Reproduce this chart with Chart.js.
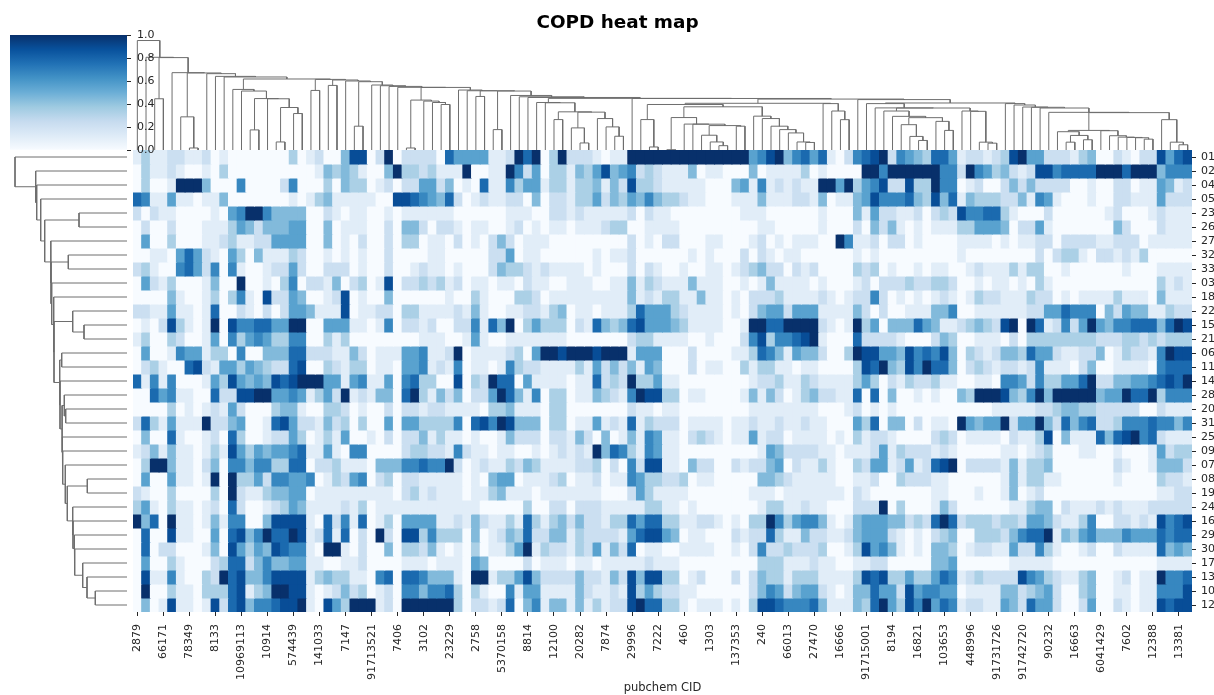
<!DOCTYPE html>
<html><head><meta charset="utf-8"><title>COPD heat map</title>
<script src="https://cdn.jsdelivr.net/npm/chart.js@4"></script>
<style>
html,body{margin:0;padding:0;background:#fff;width:1214px;height:695px;overflow:hidden}
canvas{position:absolute;display:block;filter:blur(0.5px)}
#title{position:absolute;left:417.5px;width:400px;top:11px;text-align:center;font:bold 18.4px/22px 'DejaVu Sans';color:#000;filter:blur(0.3px)}
</style></head><body>
<div id="title">COPD heat map</div>
<canvas id="left" width="127" height="462" style="left:0;top:150px;width:127px;height:462px"></canvas>
<canvas id="top" width="1059" height="116" style="left:133px;top:35px;width:1059px;height:116px"></canvas>
<canvas id="heat" width="1193" height="695" style="left:21px;top:0;width:1193px;height:695px"></canvas>
<canvas id="bar" width="200" height="170" style="left:0;top:0;width:200px;height:170px"></canvas>
<script>
const rowLabels=["01","02","04","05","23","26","27","32","33","03","18","22","15","21","06","11","14","28","20","31","25","09","07","08","19","24","16","29","30","17","13","10","12"];
const columnTickLabels=["2879","66171","78349","8133","10969113","10914","574439","141033","7147","91713521","7406","3102","23229","2758","5370158","8814","12100","20282","7874","29996","7222","460","1303","137353","240","66013","27470","16666","91715001","8194","16821","103653","448996","91731726","91742720","90232","16663","6041429","7602","12388","13381"];
const colorbarTicks=[0,0.2,0.4,0.6,0.8,1];
const blues=["#f7fbff","#deebf7","#c6dbef","#9ecae1","#6baed6","#4292c6","#2171b5","#08519c","#08306b"];
// cell levels 0..9 (level/9 = value on the 0..1 colour bar)
const r01=[1,3,1,1,2,2,1,1,2,0,1,0,0,0,0,0,0,0,3,0,1,2,0,0,4,8,8,0,2,9,0,2,2,2,2,0,7,5,5,5,5,1,1,2,9,7,9,0,3,9,2,2,2,1,0,1,1,9,9,9,9,9,9,9,9,9,9,9,9,9,9,5,6,8,9,4,6,7,5,7,1,0,2,6,7,8,9,2,6,5,4,3,7,7,5,1,2,2,1,2,3,8,9,5,5,2,2,2,1,3,4,0,0,2,1,0,2,2,8,5,7,8];
const r02=[0,3,1,1,2,1,0,0,1,0,3,0,0,0,0,0,0,0,0,0,0,1,4,3,4,3,1,0,0,4,9,3,3,2,3,1,1,1,9,0,0,1,1,9,6,2,5,0,3,3,1,4,3,5,8,4,5,6,2,3,2,1,1,1,4,0,1,1,0,0,0,4,0,1,1,1,1,3,0,1,0,0,0,0,9,9,6,9,9,9,9,9,9,6,6,2,9,6,5,3,4,2,1,2,8,8,6,7,7,7,7,9,9,9,7,9,9,9,4,6,6,6];
const r04=[0,3,0,0,1,9,9,9,4,0,0,0,6,0,0,0,0,2,6,0,0,0,3,0,4,3,3,0,1,2,0,2,2,5,5,2,4,0,1,0,7,1,1,6,3,5,5,1,3,3,1,3,3,4,1,4,2,8,3,3,2,1,1,1,1,1,0,0,0,4,5,1,6,1,2,1,2,1,1,9,9,5,9,3,5,6,8,2,2,8,3,3,9,6,6,0,1,2,0,0,2,4,2,4,2,2,2,2,0,0,1,0,0,2,2,0,1,1,5,4,1,2];
const r05=[7,6,1,1,5,1,1,0,1,1,4,0,0,0,0,0,0,0,1,0,1,3,4,1,1,1,1,1,0,0,8,8,7,6,5,4,7,2,0,1,2,1,1,2,2,0,4,0,2,2,1,3,3,5,2,4,3,5,4,6,4,3,3,2,1,1,0,0,0,1,1,1,4,1,1,1,2,2,1,4,0,1,1,4,5,8,6,6,6,7,4,3,8,4,7,1,4,3,3,3,2,2,4,1,6,5,1,0,0,0,1,0,0,2,2,1,1,1,5,2,2,2];
const r23=[2,0,2,1,1,0,0,0,0,1,0,5,6,9,9,6,4,4,4,4,0,0,2,1,0,1,1,0,0,1,0,1,1,1,1,1,1,0,0,0,0,0,0,1,1,1,0,0,2,2,1,2,1,1,1,1,1,2,0,2,1,1,0,0,0,0,0,0,0,0,1,1,1,0,0,0,0,0,0,1,0,0,0,4,1,5,2,2,1,1,2,0,2,3,2,8,6,6,7,7,3,1,0,0,0,2,0,0,0,0,0,0,1,2,0,0,0,1,2,1,1,1];
const r26=[0,2,0,0,2,0,0,0,1,1,1,3,5,4,2,4,4,4,5,5,0,0,4,0,1,1,1,0,0,2,0,4,4,2,0,2,2,1,0,1,1,0,0,1,2,0,1,0,1,1,0,1,1,1,2,3,3,0,0,1,1,1,1,0,0,0,0,0,0,0,0,0,1,1,0,0,0,0,0,1,0,0,0,2,0,4,2,4,1,0,1,0,1,1,1,3,3,5,5,5,4,0,2,2,5,1,0,0,0,0,0,0,0,4,2,0,0,0,2,1,1,1];
const r27=[0,5,0,0,3,0,0,0,1,1,2,3,1,1,2,2,5,5,5,5,0,0,4,0,1,0,2,0,0,2,0,3,3,0,1,1,0,2,0,1,0,2,4,2,0,1,1,1,0,0,0,0,0,0,0,0,0,2,0,1,0,2,2,0,0,0,1,1,0,0,0,1,2,0,1,0,1,1,1,0,0,9,6,1,1,2,0,2,2,0,1,0,0,0,0,1,1,1,1,0,1,0,1,1,2,2,0,2,2,2,2,1,1,2,2,2,0,1,1,1,1,1];
const r32=[0,0,1,1,0,5,7,5,2,1,0,5,3,0,4,1,1,1,3,2,0,0,1,0,1,0,1,0,0,2,0,0,0,0,1,1,0,0,0,0,0,2,2,5,0,1,1,0,0,0,0,0,0,1,0,1,1,2,0,0,0,0,0,0,1,0,1,0,0,0,2,0,2,1,0,1,1,0,0,0,0,0,0,1,0,1,0,0,0,0,0,0,0,0,0,1,0,0,0,0,0,0,0,0,2,0,2,3,3,1,0,2,2,1,2,1,3,0,0,0,0,0];
const r33=[2,3,1,0,0,6,7,5,2,6,0,6,1,0,0,1,2,2,5,2,0,0,2,2,2,0,1,0,0,2,0,0,1,2,1,1,0,1,0,0,0,2,4,3,3,2,1,2,1,1,1,1,0,1,0,0,0,2,0,2,1,0,0,1,0,0,1,1,0,1,2,3,4,2,2,0,2,1,2,0,0,0,0,3,2,3,0,1,0,0,1,0,1,1,0,0,1,2,1,1,1,3,1,3,3,0,0,1,0,0,0,0,0,0,1,0,0,0,1,1,1,1];
const r03=[0,5,2,1,3,0,0,0,1,4,0,0,9,0,0,1,0,3,6,0,2,2,1,4,0,2,3,0,1,8,0,2,2,3,2,3,1,2,0,1,1,0,1,1,0,2,1,1,0,0,1,1,1,0,0,1,1,4,1,3,2,1,1,1,4,1,1,1,0,0,1,0,1,4,1,1,1,1,0,1,0,0,0,1,2,0,2,2,2,3,2,2,3,3,2,0,0,1,0,1,1,0,1,0,3,1,0,0,0,0,0,0,0,0,0,0,0,0,3,1,2,1];
const r18=[0,0,0,0,4,1,0,0,1,3,0,3,6,1,0,8,2,2,5,4,0,0,1,2,8,0,1,0,0,4,0,0,0,0,0,0,1,0,0,3,1,0,0,0,3,3,2,0,1,1,1,1,1,1,1,1,1,4,1,2,1,3,3,1,1,4,1,1,0,1,0,2,2,2,3,1,1,1,1,2,1,0,1,2,2,6,2,0,1,0,1,0,1,2,1,0,1,3,2,2,1,1,1,3,2,2,0,1,0,1,1,1,1,3,1,1,1,0,4,1,1,1];
const r22=[2,2,1,1,5,1,1,0,1,7,0,0,2,1,0,2,0,2,5,5,4,1,1,1,8,0,1,1,2,2,0,3,3,1,1,1,1,2,1,4,1,0,0,1,1,2,2,1,3,4,0,1,1,0,1,1,1,3,7,5,5,5,3,2,1,1,1,1,0,1,0,2,4,5,5,2,5,5,5,1,1,1,1,4,2,0,2,0,0,1,1,1,4,4,6,0,0,1,1,1,1,1,1,2,2,5,5,7,6,6,6,0,4,2,5,4,4,1,1,3,2,2];
const r15=[0,1,0,2,8,3,1,0,1,9,0,8,6,6,7,7,5,5,9,9,0,0,5,5,5,1,1,0,1,6,0,2,2,1,2,0,0,2,2,6,1,7,4,9,0,3,5,3,3,3,0,2,1,7,4,3,4,7,8,5,5,5,4,3,1,1,1,1,0,0,1,9,9,7,7,9,9,9,9,2,1,0,1,9,3,5,0,4,4,4,7,5,4,1,1,2,3,4,3,2,8,9,0,9,7,1,2,6,2,5,9,5,4,6,6,7,7,7,4,7,9,8];
const r21=[1,3,0,0,3,2,0,0,1,5,0,6,3,5,6,5,3,3,6,6,0,0,3,1,3,0,0,0,0,0,0,0,0,1,1,1,0,0,1,5,1,0,0,1,1,1,1,1,1,1,0,0,0,0,0,0,0,2,3,3,1,1,1,1,0,0,1,0,0,0,2,6,8,3,6,6,7,8,9,1,0,0,0,7,2,2,2,2,1,0,0,0,2,4,3,0,0,1,1,1,0,2,0,3,3,3,3,3,3,3,3,2,2,2,3,3,2,3,2,3,3,3];
const r06=[0,5,0,0,1,6,5,5,1,3,3,0,6,0,0,4,4,4,7,7,2,2,2,1,1,4,2,0,1,1,1,5,5,6,1,1,2,9,0,1,1,1,1,2,3,0,5,9,9,8,9,9,9,8,9,9,9,1,5,5,5,0,0,0,2,0,0,0,0,1,1,3,7,6,4,1,5,4,4,2,0,0,3,9,8,8,5,5,4,8,6,7,6,8,4,0,3,2,1,2,4,4,3,7,5,5,2,1,1,2,2,4,0,1,3,2,2,1,6,9,8,8];
const r11=[0,2,3,1,0,0,7,8,2,1,5,5,3,5,4,3,2,2,7,8,0,0,3,2,1,3,3,0,1,1,0,5,5,6,1,2,1,6,0,1,1,0,1,6,3,2,2,1,1,1,1,3,1,5,2,4,2,4,1,5,4,0,0,0,2,0,1,1,0,0,3,1,3,3,1,1,0,1,1,0,0,0,0,3,8,7,9,4,3,8,6,9,7,7,4,0,2,3,2,1,2,2,1,2,6,1,1,1,0,2,4,0,0,1,1,1,1,0,6,7,7,7];
const r14=[7,1,6,1,6,0,0,0,1,5,3,8,5,4,5,4,8,7,8,9,9,9,5,5,1,5,6,1,1,5,0,6,7,3,3,0,0,8,0,3,2,9,7,7,0,5,1,1,1,1,0,1,1,7,2,3,2,9,3,3,5,1,1,0,0,0,0,0,0,0,0,1,2,2,3,1,1,3,2,1,1,1,1,3,5,3,0,2,1,3,2,2,3,1,1,0,0,1,1,0,6,6,5,2,6,3,3,5,5,7,9,2,2,4,4,5,5,6,7,8,7,9];
const r28=[0,0,7,5,6,1,1,0,0,7,2,2,8,8,9,9,5,5,6,5,1,3,5,2,9,1,2,1,4,4,0,7,9,3,1,4,2,4,0,2,2,5,9,7,4,1,6,0,3,3,0,1,1,4,3,2,1,6,9,8,8,3,3,0,1,1,0,0,0,0,1,4,1,4,2,0,1,3,4,2,2,1,1,7,0,7,0,4,0,0,1,0,1,0,0,4,3,9,9,9,8,4,3,6,9,4,9,9,9,9,9,4,5,5,9,7,7,9,3,6,6,6];
const r20=[0,0,0,0,3,0,1,0,1,2,1,5,2,0,0,0,3,4,4,1,0,0,3,3,2,0,1,0,0,2,0,2,2,1,2,2,1,1,1,1,0,3,3,4,1,1,1,0,3,3,0,0,0,0,0,0,0,2,1,1,0,1,1,0,0,0,0,0,0,0,0,1,1,1,1,1,1,1,1,0,0,0,1,2,0,1,0,1,0,0,0,0,0,0,0,0,0,0,0,1,1,1,1,1,2,2,3,4,4,3,3,2,2,2,2,2,0,0,2,1,1,1];
const r31=[2,7,3,1,5,1,1,1,9,2,2,4,5,0,0,1,7,8,5,2,2,1,4,2,3,0,3,0,0,5,0,5,5,3,3,3,3,6,0,7,8,6,9,8,4,4,4,0,3,3,0,1,1,5,1,2,1,7,1,3,2,2,2,0,1,1,1,1,0,1,1,2,1,1,2,1,1,2,1,1,0,0,0,5,3,7,0,4,4,0,2,0,1,1,0,9,5,4,5,5,9,2,5,5,9,4,2,7,4,6,7,2,2,3,6,6,6,7,6,6,4,6];
const r25=[0,4,0,0,7,1,0,0,1,2,0,7,3,0,0,1,2,2,5,3,0,1,3,1,5,0,0,1,0,2,0,2,2,4,1,3,1,1,0,1,0,0,1,4,2,2,2,0,2,2,1,4,2,0,4,0,1,4,1,6,5,1,1,0,2,3,2,1,0,1,1,5,1,2,2,0,1,1,1,1,0,1,0,3,1,2,2,1,0,0,0,0,2,3,2,0,1,1,1,1,0,2,1,1,3,8,0,4,1,1,1,7,4,7,8,9,6,7,2,1,1,1];
const r09=[1,2,4,1,4,1,1,0,1,3,1,8,5,3,5,4,5,5,6,7,1,1,5,1,0,6,6,0,0,0,0,2,3,3,2,2,1,6,2,1,1,0,1,1,0,0,1,0,1,2,1,2,1,9,4,7,6,3,1,6,5,1,1,0,0,0,0,0,0,0,0,0,1,5,4,2,2,2,2,1,1,0,1,1,1,2,5,1,3,2,2,2,1,2,1,0,0,0,0,0,1,1,0,1,2,3,0,0,0,1,1,0,0,1,0,0,0,1,5,2,3,3];
const r07=[0,3,9,9,4,1,1,0,2,4,0,6,6,4,6,6,3,3,7,7,0,2,2,3,1,1,1,0,4,4,4,6,6,7,6,6,9,2,0,1,2,1,1,3,2,4,3,1,1,1,1,2,2,3,0,2,0,6,2,8,8,1,1,0,4,2,2,0,0,2,1,2,2,4,5,0,2,1,1,3,1,0,0,3,2,5,5,1,2,5,1,2,7,8,9,0,2,2,2,2,1,4,1,3,3,4,0,0,0,0,0,0,0,2,1,0,0,1,4,4,4,2];
const r08=[0,5,0,0,5,1,1,0,1,9,0,9,3,3,5,2,6,6,5,5,6,0,1,3,2,5,6,0,2,3,0,2,2,1,1,1,1,1,0,1,0,4,5,5,0,1,1,1,2,3,0,1,1,2,0,1,1,6,5,3,3,2,2,3,0,1,1,0,0,0,0,0,4,4,3,2,1,1,1,1,1,0,0,1,1,2,0,0,3,2,2,2,1,1,0,0,0,0,0,0,1,4,1,3,3,1,1,0,0,0,0,0,0,1,0,0,0,0,3,2,2,1];
const r19=[2,1,0,0,3,0,0,0,0,3,0,9,2,1,1,3,4,4,5,5,0,1,1,1,1,1,1,1,1,1,0,2,3,1,2,1,1,1,0,1,1,3,4,1,1,1,0,1,1,1,1,1,1,1,0,0,0,2,5,3,1,1,1,1,0,0,0,0,0,0,0,1,1,1,0,1,1,1,1,1,1,1,0,2,1,0,0,0,0,0,0,0,1,1,0,0,0,1,0,0,1,4,0,1,2,0,0,0,0,0,0,0,0,0,0,0,0,0,1,1,2,2];
const r24=[3,5,1,0,3,1,1,0,1,2,0,7,2,0,0,1,2,3,5,4,1,1,1,1,2,1,3,0,1,1,1,1,1,1,1,1,1,1,1,1,0,0,0,0,0,3,0,0,2,2,0,2,2,2,1,1,1,1,1,3,3,1,1,0,1,0,0,0,0,0,0,0,1,3,3,1,1,2,1,1,0,0,0,2,2,2,9,0,3,0,0,0,1,4,2,0,0,0,0,0,0,1,1,3,4,4,0,2,1,1,1,2,1,2,1,1,1,2,2,2,2,2];
const r16=[9,4,7,0,9,1,1,0,1,4,1,6,6,0,0,4,8,8,8,8,1,0,7,2,6,1,7,0,1,3,0,5,5,5,5,1,1,2,1,4,2,1,1,3,1,7,3,1,3,4,2,4,2,2,1,3,3,7,5,7,7,3,3,1,1,2,2,1,0,1,0,3,3,9,6,3,5,6,6,4,1,0,1,4,5,5,5,4,4,2,3,2,7,9,7,2,3,3,3,2,3,3,2,5,5,4,2,1,1,3,6,0,0,2,2,1,2,1,8,6,7,8];
const r29=[0,7,0,0,8,1,1,0,0,5,0,7,8,4,6,9,7,7,9,8,1,2,7,1,7,0,2,0,9,2,0,8,8,3,6,3,3,3,0,4,0,1,2,4,3,7,2,2,4,4,1,3,2,2,2,2,1,5,7,8,8,5,4,0,1,1,0,0,0,2,1,2,2,7,3,1,1,4,2,2,1,1,2,4,5,5,5,2,1,0,1,0,2,3,4,0,0,3,3,3,2,4,6,7,7,9,1,4,3,5,6,4,4,4,6,5,5,5,7,6,7,7];
const r30=[0,7,0,2,2,0,0,0,1,4,0,8,5,3,5,4,8,7,6,6,1,0,9,9,1,0,2,0,0,4,0,3,3,2,4,1,0,1,0,3,0,1,1,3,5,9,1,3,2,2,1,3,2,5,1,4,2,7,0,1,1,0,0,1,1,1,1,0,0,1,0,2,6,2,2,3,2,2,2,3,0,0,1,3,8,5,6,4,1,0,1,0,4,4,3,0,1,2,2,1,1,5,2,2,6,3,1,0,0,1,2,0,0,2,1,1,1,1,7,4,5,4];
const r17=[0,5,0,0,3,1,0,0,0,2,3,7,7,2,4,6,4,4,5,5,1,1,0,0,1,1,2,0,0,0,0,1,1,1,0,1,1,1,0,5,4,0,0,0,0,2,0,1,1,1,0,1,1,0,1,1,1,1,1,2,1,1,1,0,0,0,0,0,0,0,0,0,3,3,3,1,1,1,2,1,1,0,0,1,1,2,2,0,0,0,0,0,4,4,5,0,0,0,0,0,0,1,1,1,1,1,0,0,0,0,0,0,0,0,0,0,0,0,1,1,1,1];
const r13=[0,8,1,1,6,1,0,0,3,2,9,7,8,4,4,6,8,8,8,8,1,3,4,3,3,1,1,0,6,7,0,7,7,6,4,4,4,1,0,9,9,1,3,3,5,8,4,2,2,2,2,4,2,2,1,4,2,8,4,8,8,3,3,0,1,2,0,0,0,2,0,2,4,3,3,1,3,3,3,1,1,1,1,3,8,7,8,3,3,5,3,3,5,7,6,1,2,3,2,2,2,2,8,6,5,3,2,1,1,3,4,0,0,1,2,0,1,1,9,6,6,7];
const r10=[0,9,0,0,3,1,1,0,3,3,3,7,8,1,3,4,9,9,8,8,1,0,1,2,4,2,3,0,1,2,0,6,6,4,6,6,7,3,0,3,1,0,0,6,1,5,5,1,1,1,1,4,2,1,1,2,1,8,3,5,3,2,2,1,1,0,0,0,0,0,0,2,4,6,5,2,4,5,5,2,1,0,1,4,4,7,5,5,2,8,5,6,6,5,5,0,1,1,1,1,4,4,2,3,4,5,2,0,0,3,4,0,0,1,1,0,1,1,6,6,6,8];
const r12=[0,4,0,1,8,1,1,0,1,8,2,7,8,4,6,6,7,8,8,9,1,0,8,5,3,9,9,9,1,2,0,9,9,9,9,9,9,3,0,2,2,1,2,7,0,4,6,1,4,4,1,4,1,3,1,2,2,8,9,7,7,3,3,1,0,1,1,1,0,1,0,3,8,8,7,6,6,6,7,4,1,1,1,4,3,7,9,5,3,8,6,9,5,7,6,1,2,2,1,1,5,4,2,7,5,5,2,0,0,2,5,0,0,2,1,0,1,1,8,7,8,8];
const rowLevels=[r01,r02,r04,r05,r23,r26,r27,r32,r33,r03,r18,r22,r15,r21,r06,r11,r14,r28,r20,r31,r25,r09,r07,r08,r19,r24,r16,r29,r30,r17,r13,r10,r12];
// dendrogram merges: [merge height, left child, right child]; a number is a leaf index
const a2=[43.3,[9,16,17],[37.3,18,19]], a4=[52.2,[21,13,14],[52,15,a2]], a5=[61.3,11,[59.7,12,a4]];
const b2=[38.7,[23,50,[8,51,52]],[32.3,53,[24,54,[14.7,55,56]]]], b4=[48.3,46,[48,47,[39,[31.3,48,49],b2]]];
const c1=[26.7,64,[25.3,[15.7,65,[9,66,[5.3,67,68]]],[24.7,69,70]]], c2=[33.3,[1.3,61,62],[26.8,63,c1]];
const c3=[34.7,71,[32.3,72,[24.7,73,[21.3,74,[18,75,[9,76,[8.5,77,78]]]]]]];
const c4=[46.3,[31.3,58,[4,59,60]],[44,c2,c3]], c6=[47.5,c4,[47.2,79,[39.8,80,[31.2,81,82]]]];
const d1=[39.8,86,[34.5,87,[33.2,[26.2,88,[14.5,89,[10.5,90,91]]],[29.5,92,[20.5,93,94]]]]];
const d2=[39.8,95,[39.5,96,[8.8,97,[7.8,98,99]]]], d3=[47.2,84,[42.9,85,[42.8,d1,d2]]];
const e1=[20.5,[19.2,106,[15.5,[8.8,107,108],[11.2,109,110]]],[20.2,111,[15.2,112,[13.8,113,[13.5,114,[13.2,115,[11.8,116,117]]]]]]];
const e2=[38.2,e1,[31.2,118,[8.8,119,[6.2,120,121]]]];
const e3=[47.2,100,[45.8,101,[43.8,102,[43.5,103,[42.8,104,[38.5,105,e2]]]]]];
const g3=[52.4,b4,[52.3,57,[51.7,c6,[51.2,83,[47.8,d3,e3]]]]];
const g4=[55.3,43,[54,44,[53.3,45,g3]]];
const g6=[60.7,37,[60,38,[60,[54.3,39,40],[59.7,[21.3,41,42],g4]]]];
const r5=[50.7,[3,31,32],[49.7,33,[48.3,34,[46.3,35,36]]]];
const h1=[63.4,30,[63.3,r5,g6]];
const i1=[69.7,24,[69,[24.7,25,26],[65.7,27,[65,28,[64.3,29,h1]]]]];
const j1=[71.7,a5,[71.3,[60.3,20,21],[70.7,[65.3,22,23],i1]]];
const k1=[77,8,[74.3,9,[73.7,10,j1]]];
const columnTree=[110,0,[93.3,1,[93,[52,2,3],[78,4,[77.7,[34,5,[3,6,7]],k1]]]]];
const q1=[54.3,25,[54,26,[52.7,27,[52.3,28,[44.3,29,[40,30,[31.7,31,32]]]]]]];
const q2=[64.7,20,[64.3,21,[61.7,22,[59.7,[39.7,23,24],q1]]]];
const q3=[67.3,[65.3,14,15],[67,16,[65,[62.7,17,[61.3,18,19]],q2]]];
const q4=[73.3,10,[73,[54.3,11,[43,12,13]],q3]];
const q5=[76.3,6,[76,[58.7,7,8],[75.3,9,q4]]];
const rowTree=[112,0,[91.3,1,[90.3,2,[86.3,3,[82.3,[48,4,5],q5]]]]];

rowLevels.forEach((r,i)=>{if(r.length!==122)throw new Error("row "+rowLabels[i]+" has "+r.length)});
const darkText="#262626", fontName="'DejaVu Sans'";
function hex(c){return [1,3,5].map(i=>parseInt(c.substr(i,2),16))}
function bluesAt(v){const t=Math.min(1,Math.max(0,v))*(blues.length-1),i=Math.min(blues.length-2,Math.floor(t)),f=t-i,a=hex(blues[i]),b=hex(blues[i+1]);
 return "rgb("+a.map((x,k)=>Math.round(x+(b[k]-x)*f)).join(",")+")"}
const columnCategories=rowLevels[0].map((_,c)=>c%3===0?columnTickLabels[c/3]:"");
const base={responsive:false,animation:false,events:[],plugins:{legend:{display:false},tooltip:{enabled:false}}};
const tickGrid={drawOnChartArea:false,drawTicks:true,tickLength:4,color:darkText,offset:false};

new Chart(document.getElementById("heat"),{type:"bar",
 data:{labels:columnCategories,datasets:rowLevels.map((r,i)=>({label:rowLabels[i],data:r.map(()=>1),backgroundColor:r.map(l=>bluesAt(l/9)),borderWidth:0,barPercentage:1,categoryPercentage:1,inflateAmount:0.5}))},
 options:{...base,layout:{padding:{left:112,right:0,top:150,bottom:0}},
  scales:{
   x:{type:"category",stacked:true,position:"bottom",grid:tickGrid,border:{display:false},
    afterBuildTicks:a=>{a.ticks=a.ticks.filter(t=>t.value%3===0)},afterFit:s=>{s.height=83},
    ticks:{autoSkip:false,minRotation:90,maxRotation:90,padding:8,color:darkText,font:{family:fontName,size:11}},
    title:{display:true,text:"pubchem CID",color:darkText,padding:{top:0,bottom:0},font:{family:fontName,size:11.5}}},
   y:{type:"linear",stacked:true,reverse:true,min:0,max:rowLabels.length,position:"right",grid:tickGrid,border:{display:false},
    afterBuildTicks:a=>{a.ticks=rowLabels.map((_,i)=>({value:i+0.5}))},afterFit:s=>{s.width=22},
    ticks:{autoSkip:false,padding:5,color:darkText,font:{family:fontName,size:11},callback:v=>rowLabels[Math.round(v-0.5)]}}}}});

function segments(node,out,flip){ // returns [position,height]
 if(typeof node==="number")return [node,0];
 const L=segments(node[1],out,flip),R=segments(node[2],out,flip),h=node[0];
 const pts=[[L[0],L[1]],[L[0],h],[R[0],h],[R[0],R[1]]];
 pts.forEach(p=>out.push(flip?{x:p[1],y:p[0]}:{x:p[0],y:p[1]}));
 out.push({x:null,y:null});
 return [(L[0]+R[0])/2,h];
}
const lineStyle={type:"scatter",showLine:true,borderColor:"#6e6e6e",borderWidth:1,pointRadius:0,spanGaps:false,clip:false,tension:0};
const topPts=[];segments(columnTree,topPts,false);
new Chart(document.getElementById("top"),{type:"scatter",data:{datasets:[{...lineStyle,data:topPts}]},
 options:{...base,scales:{x:{type:"linear",display:false,min:-0.5,max:121.5},y:{type:"linear",display:false,min:0,max:115.5}}}});
const leftPts=[];segments(rowTree,leftPts,true);
new Chart(document.getElementById("left"),{type:"scatter",data:{datasets:[{...lineStyle,data:leftPts}]},
 options:{...base,scales:{x:{type:"linear",display:false,reverse:true,min:0,max:127},y:{type:"linear",display:false,reverse:true,min:-0.5,max:32.5}}}});

new Chart(document.getElementById("bar"),{type:"bar",
 data:{labels:["colour"],datasets:[{data:[[0,1]],barPercentage:1,categoryPercentage:1,borderWidth:0,
  backgroundColor:ctx=>{const a=ctx.chart.chartArea;if(!a)return blues[4];const g=ctx.chart.ctx.createLinearGradient(0,a.bottom,0,a.top);blues.forEach((c,i)=>g.addColorStop(i/(blues.length-1),c));return g}}]},
 options:{...base,layout:{padding:{left:10,top:35,bottom:20,right:0}},
  scales:{x:{display:false},
   y:{type:"linear",position:"right",min:0,max:1,grid:tickGrid,border:{display:false},
    afterBuildTicks:a=>{a.ticks=colorbarTicks.map(v=>({value:v}))},afterFit:s=>{s.width=73},
    ticks:{padding:6,color:darkText,font:{family:fontName,size:11},callback:v=>Number(v).toFixed(1)}}}}});
</script></body></html>
